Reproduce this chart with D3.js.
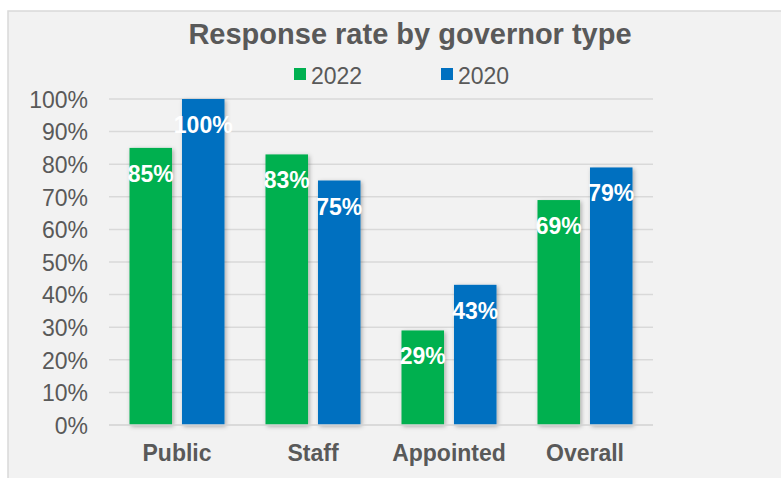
<!DOCTYPE html>
<html>
<head>
<meta charset="utf-8">
<script src="https://cdn.jsdelivr.net/npm/d3@7"></script>
<style>
  html, body { margin: 0; padding: 0; background: #ffffff; }
  svg { display: block; font-family: "Liberation Sans", Arial, sans-serif; }
</style>
</head>
<body>
<svg id="chart" width="781" height="478"></svg>
<script>
// Response rates per governor type, two survey years
const categories = ["Public", "Staff", "Appointed", "Overall"];
const seriesNames = ["2022", "2020"];
const values2022 = [0.85, 0.83, 0.29, 0.69];
const values2020 = [1.00, 0.75, 0.43, 0.79];
const yTicks = [0, 0.1, 0.2, 0.3, 0.4, 0.5, 0.6, 0.7, 0.8, 0.9, 1.0];
const colors = { "2022": "#00B050", "2020": "#0070C0" };

const rows = categories.map((c, i) => ({
  category: c,
  values: [
    { series: "2022", value: values2022[i] },
    { series: "2020", value: values2020[i] }
  ]
}));

const svg = d3.select("#chart");
const textColor = "#595959";
const fontFamily = "'Liberation Sans', Arial, sans-serif";

// panel background
svg.append("rect")
  .attr("x", 8).attr("y", 11)
  .attr("width", 800).attr("height", 500)
  .attr("fill", "#f2f2f2")
  .attr("stroke", "#d9d9d9").attr("stroke-width", 1.5);

// soft shadow under bars
const defs = svg.append("defs");
const f = defs.append("filter").attr("id", "barShadow")
  .attr("x", "-30%").attr("y", "-10%").attr("width", "160%").attr("height", "120%");
f.append("feDropShadow")
  .attr("dx", 1.5).attr("dy", 1.5).attr("stdDeviation", 2)
  .attr("flood-color", "#000").attr("flood-opacity", 0.3);

const x0 = d3.scaleBand().domain(categories).range([109, 653]).padding(0);
const x1 = d3.scaleBand().domain(seriesNames)
  .range([20.5, x0.bandwidth() - 20.5]).paddingInner(0.19).paddingOuter(0);
const y = d3.scaleLinear().domain([0, 1]).range([425, 99]);

// gridlines
svg.append("g")
  .selectAll("line")
  .data(yTicks)
  .join("line")
  .attr("x1", 109).attr("x2", 653)
  .attr("y1", d => y(d)).attr("y2", d => y(d))
  .attr("stroke", "#d9d9d9").attr("stroke-width", 1.5);

// y axis labels
const yAxis = d3.axisLeft(y).tickValues(yTicks).tickFormat(d3.format(".0%"))
  .tickSize(0).tickPadding(0);
const yg = svg.append("g").attr("transform", "translate(88,0)").call(yAxis);
yg.select(".domain").remove();
yg.selectAll("text")
  .attr("fill", textColor)
  .attr("dy", "0.36em")
  .style("font-size", "23px")
  .style("font-family", fontFamily);

// bars
const groups = svg.append("g")
  .selectAll("g")
  .data(rows)
  .join("g")
  .attr("transform", d => `translate(${x0(d.category)},0)`);

groups.selectAll("rect")
  .data(d => d.values)
  .join("rect")
  .attr("x", d => x1(d.series))
  .attr("y", d => y(d.value))
  .attr("width", x1.bandwidth())
  .attr("height", d => y(0) - y(d.value))
  .attr("fill", d => colors[d.series])
  .attr("filter", "url(#barShadow)");

// value labels inside bar tops
groups.selectAll("text.val")
  .data(d => d.values)
  .join("text")
  .attr("class", "val")
  .attr("x", d => x1(d.series) + x1.bandwidth() / 2)
  .attr("y", d => y(d.value) + 34)
  .attr("text-anchor", "middle")
  .attr("fill", "#ffffff")
  .style("font-weight", "bold")
  .style("font-size", "23px")
  .text(d => d3.format(".0%")(d.value));

// x axis
const xAxis = d3.axisBottom(x0).tickSize(0).tickPadding(0);
const xg = svg.append("g").attr("transform", "translate(0,461)").call(xAxis);
xg.select(".domain").attr("stroke", "#d9d9d9").attr("stroke-width", 1.5)
  .attr("d", "M109,-36H653");
xg.selectAll("text")
  .attr("fill", textColor)
  .attr("dy", "0")
  .style("font-size", "23px")
  .style("font-weight", "bold")
  .style("font-family", fontFamily);

// title
svg.append("text")
  .attr("x", 410).attr("y", 44)
  .attr("text-anchor", "middle")
  .attr("fill", textColor)
  .style("font-size", "29px")
  .style("font-weight", "bold")
  .text("Response rate by governor type");

// legend
const legendItems = [
  { name: "2022", x: 294 },
  { name: "2020", x: 441 }
];
const lg = svg.append("g")
  .selectAll("g")
  .data(legendItems)
  .join("g")
  .attr("transform", d => `translate(${d.x},68)`);
lg.append("rect")
  .attr("width", 12).attr("height", 12)
  .attr("fill", d => colors[d.name]);
lg.append("text")
  .attr("x", 17).attr("y", 16)
  .attr("fill", textColor)
  .style("font-size", "23px")
  .text(d => d.name);
</script>
</body>
</html>
